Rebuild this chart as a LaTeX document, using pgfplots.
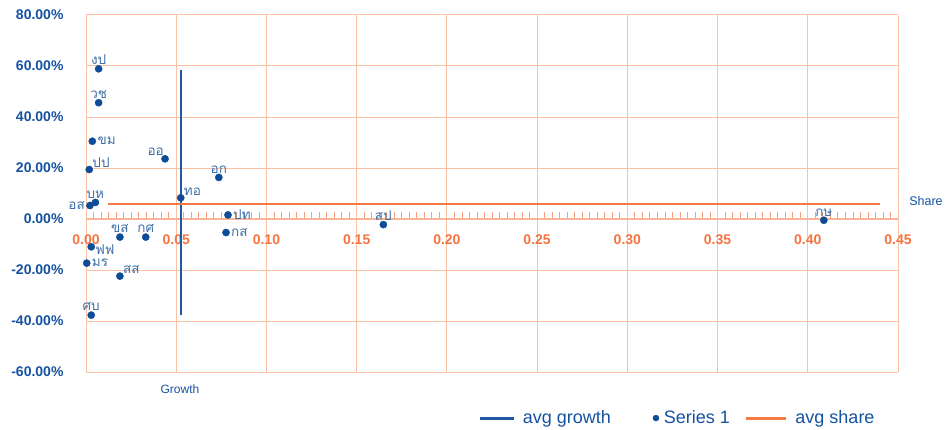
\documentclass[border=0pt]{standalone}
\usepackage{fontspec}
\setmainfont{Liberation Sans}
\newfontfamily\thaifont[Script=Thai]{Loma}
\usepackage{pgfplots}
\pgfplotsset{compat=1.18}
\definecolor{dotblue}{HTML}{0E4D96}
\definecolor{labelblue}{HTML}{3F6FA8}
\definecolor{tickblue}{HTML}{1552A0}
\definecolor{avgblue}{HTML}{1F5AA0}
\definecolor{gridorange}{HTML}{FBC1A6}
\definecolor{axisorange}{HTML}{F9B595}
\definecolor{tickorange}{HTML}{F7A07C}
\definecolor{labelorange}{HTML}{F5733F}
\definecolor{shareorange}{HTML}{F47A48}
\pgfplotsset{
  pts/.style n args={3}{forget plot, only marks, mark=*, mark size=3.6pt,
    mark options={fill=dotblue, draw=dotblue},
    point meta=explicit symbolic,
    nodes near coords={\pgfplotspointmeta},
    every node near coord/.append style={anchor=#1, inner sep=1pt, xshift=#2, yshift=#3,
      font=\thaifont\fontsize{13.5}{13.5}\selectfont, text=labelblue}},
}
\begin{document}
\begin{tikzpicture}
\path[use as bounding box] (0pt,0pt) rectangle (952pt,-430pt);
\begin{axis}[
  at={(86pt,-15pt)}, anchor=north west,
  width=812pt, height=357pt, scale only axis,
  xmin=0, xmax=0.45, ymin=-60, ymax=80,
  axis x line=middle, axis y line=left,
  hide obscured x ticks=false,
  axis line style={-},
  x axis line style={axisorange, line width=1.2pt},
  y axis line style={gridorange, line width=1pt},
  grid=major,
  major grid style={gridorange, line width=1pt},
  xtick={0,0.05,0.10,0.15,0.20,0.25,0.30,0.35,0.40,0.45},
  minor x tick num=11,
  tick align=inside,
  major tick length=0pt,
  minor tick length=7pt,
  minor x tick style={tickorange, line width=0.8pt},
  x tick label style={/pgf/number format/.cd, fixed, fixed zerofill, precision=2, assume math mode=true, /tikz/.cd,
     font=\fontsize{14}{14}\selectfont\bfseries, text=labelorange, yshift=-12pt},
  ytick={-60,-40,-20,0,20,40,60,80},
  yticklabels={-60.00\%,-40.00\%,-20.00\%,0.00\%,20.00\%,40.00\%,60.00\%,80.00\%},
  ytick style={draw=none},
  y tick label style={font=\fontsize{14}{14}\selectfont\bfseries, text=tickblue, anchor=east, xshift=-19pt},
  legend style={at={(0.483,-0.129)}, anchor=west, draw=none, fill=none,
     legend columns=3, font=\fontsize{18}{18}\selectfont, text=tickblue,
     inner sep=0pt,
     /tikz/every even column/.append style={column sep=13pt},
     legend cell align=left},
]
\addplot[avgblue, line width=2.2pt,
  legend image code/.code={\path[draw=none] (0pt,0pt) -- (41pt,0pt); \draw[avgblue, line width=3pt] (0pt,0pt) -- (34pt,0pt);}]
  coordinates {(0.0525,58.6) (0.0525,-37.6)};
\addlegendentry{avg growth}
\addlegendimage{legend image code/.code={\path[draw=none] (-30pt,0pt) -- (6pt,0pt); \fill[dotblue] (0pt,0pt) circle (3pt);}}
\addlegendentry{Series 1}
\addplot[pts={south}{0pt}{3pt}] coordinates {
  (0.0070,58.9) [งป]
  (0.0070,45.6) [วช]
  (0.0736,16.3) [อก]
  (0.0052,6.5) [บห]
  (0.0188,-7.1) [ขส]
  (0.0331,-7.1) [กศ]
  (0.0029,-37.7) [ศบ]
  (0.1648,-2.2) [สป]
  (0.4089,-0.5) [กษ]
};
\addplot[pts={west}{4pt}{0pt}] coordinates {
  (0.0035,30.5) [ขม]
  (0.0787,1.6) [ปท]
  (0.0776,-5.3) [กส]
  (0.0004,-17.3) [มร]
};
\addplot[pts={south west}{2pt}{1pt}] coordinates {
  (0.0018,19.4) [ปป]
  (0.0525,8.3) [ทอ]
  (0.0188,-22.4) [สส]
};
\addplot[pts={south east}{0pt}{2pt}] coordinates {
  (0.0438,23.6) [ออ]
};
\addplot[pts={east}{-4pt}{0pt}] coordinates {
  (0.0022,5.3) [อส]
};
\addplot[pts={north west}{3pt}{3pt}] coordinates {
  (0.0029,-10.9) [ฟฟ]
};
\addplot[shareorange, line width=1.6pt,
  legend image code/.code={\path[draw=none] (0pt,0pt) -- (47pt,0pt); \draw[shareorange, line width=3pt] (0pt,0pt) -- (40pt,0pt);}]
  coordinates {(0.012,5.8) (0.44,5.8)};
\addlegendentry{avg share}
\end{axis}
\node[text=tickblue, font=\fontsize{12}{12}\selectfont] at (180pt,-389pt) {Growth};
\node[text=tickblue, font=\fontsize{12.5}{12.5}\selectfont] at (926pt,-201pt) {Share};
\end{tikzpicture}
\end{document}
